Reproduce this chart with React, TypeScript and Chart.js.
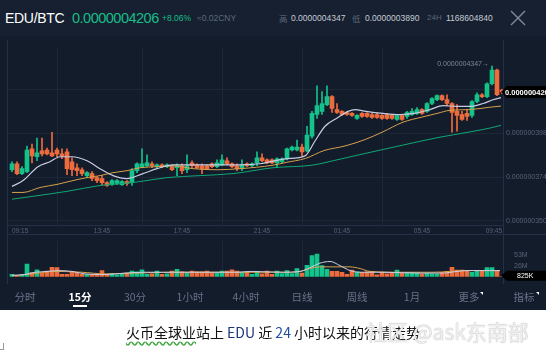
import React, { useEffect, useRef } from 'react';
import { Chart, registerables } from 'chart.js';

Chart.register(...registerables);

const FONT = 'Arial, "Liberation Sans", "Noto Sans CJK SC", sans-serif';
const CJK = '"Noto Sans CJK SC", "Liberation Sans", sans-serif';

const UP = '#14c28b';
const DOWN = '#ee6b3e';
const GRID = '#1c2738';
const BORDER = '#243047';
const TICK = '#566276';
const MA_WHITE = '#c9cce2';
const MA_YELLOW = '#d6a14c';
const MA_GREEN = '#0fa874';

// 15-minute candles, 09:15 -> 09:45 next day. Prices in units of 1e-10 BTC.
const opens = [
  3780, 3813, 3759, 3770, 3894, 3851, 3883, 3888, 3872, 3888,
  3867, 3878, 3824, 3791, 3780, 3748, 3759, 3737, 3732, 3710,
  3699, 3705, 3699, 3716, 3710, 3775, 3797, 3802, 3813, 3797,
  3807, 3797, 3797, 3791, 3802, 3780, 3818, 3807, 3802, 3802,
  3813, 3797, 3807, 3829, 3813, 3802, 3786, 3813, 3802, 3818,
  3845, 3834, 3834, 3818, 3824, 3840, 3888, 3888, 3904, 3883,
  3964, 4082, 4099, 4136, 4180, 4109, 4099, 4093, 4088, 4061,
  4088, 4088, 4082, 4082, 4077, 4082, 4077, 4055, 4077, 4072,
  4082, 4088, 4109, 4099, 4142, 4163, 4185, 4163, 4142, 4099,
  4082, 4088, 4077, 4153, 4190, 4180, 4250, 4325, 4215,
];
const highs = [
  3824, 3824, 3797, 3910, 3921, 3953, 3953, 3899, 3985, 3899,
  3894, 3894, 3845, 3813, 3791, 3770, 3770, 3743, 3748, 3716,
  3726, 3726, 3721, 3721, 3786, 3818, 3894, 3861, 3824, 3813,
  3813, 3813, 3807, 3813, 3813, 3861, 3829, 3813, 3813, 3807,
  3818, 3834, 3861, 3845, 3818, 3813, 3834, 3818, 3818, 3878,
  3867, 3840, 3840, 3845, 3845, 3899, 3910, 3942, 3921, 4018,
  4099, 4239, 4207, 4239, 4185, 4142, 4104, 4099, 4093, 4082,
  4093, 4093, 4088, 4088, 4082, 4088, 4082, 4082, 4082, 4099,
  4115, 4120, 4115, 4147, 4174, 4190, 4190, 4190, 4147, 4136,
  4099, 4109, 4158, 4201, 4196, 4255, 4347, 4331, 4220,
];
const lows = [
  3770, 3753, 3753, 3764, 3818, 3829, 3856, 3861, 3851, 3851,
  3840, 3753, 3748, 3748, 3748, 3737, 3721, 3710, 3699, 3689,
  3694, 3699, 3694, 3694, 3694, 3764, 3791, 3797, 3791, 3791,
  3791, 3791, 3775, 3748, 3759, 3764, 3791, 3786, 3759, 3780,
  3791, 3791, 3802, 3807, 3791, 3775, 3775, 3797, 3797, 3802,
  3824, 3813, 3813, 3791, 3818, 3834, 3883, 3883, 3856, 3878,
  3953, 4061, 4082, 4131, 4093, 4088, 4077, 4077, 4072, 4055,
  4066, 4066, 4061, 4061, 4055, 4055, 4055, 4050, 4050, 4061,
  4077, 4082, 4082, 4093, 4136, 4158, 4158, 4131, 3985, 3991,
  4050, 4050, 4066, 4147, 4174, 4174, 4244, 4185, 4196,
];
const closes = [
  3813, 3759, 3786, 3888, 3856, 3872, 3867, 3867, 3856, 3867,
  3856, 3786, 3780, 3775, 3759, 3764, 3732, 3721, 3710, 3694,
  3721, 3721, 3716, 3705, 3775, 3813, 3813, 3818, 3802, 3807,
  3797, 3807, 3780, 3802, 3775, 3802, 3802, 3791, 3786, 3786,
  3797, 3818, 3834, 3813, 3797, 3786, 3807, 3802, 3813, 3845,
  3829, 3818, 3818, 3840, 3840, 3894, 3904, 3904, 3878, 3969,
  4088, 4131, 4142, 4180, 4115, 4093, 4082, 4082, 4077, 4077,
  4072, 4072, 4066, 4066, 4061, 4061, 4061, 4077, 4055, 4093,
  4099, 4109, 4088, 4142, 4169, 4185, 4163, 4142, 4093, 4077,
  4055, 4072, 4153, 4190, 4180, 4250, 4325, 4190, 4206,
];
// volume in millions
const volumes = [
  6, 3, 4, 31, 10, 17, 9, 14, 23, 22,
  6, 6, 12, 10, 6, 6, 6, 7, 15, 6,
  8, 5, 7, 9, 14, 12, 17, 6, 7, 14,
  6, 7, 14, 18, 12, 9, 14, 12, 12, 14,
  9, 9, 14, 14, 17, 14, 10, 12, 6, 13,
  7, 14, 6, 14, 8, 15, 8, 20, 9, 28,
  51, 55, 27, 18, 13, 13, 11, 6, 16, 12,
  11, 12, 12, 5, 11, 7, 9, 16, 9, 11,
  11, 10, 7, 9, 7, 7, 11, 13, 23, 16,
  16, 14, 11, 13, 14, 22, 22, 13, 0.825,
];

// moving-average lines: [candle index, value]
const ma5 = [[0, 3689], [2.2, 3721], [5.2, 3797], [7.6, 3824], [9.6, 3851], [12, 3851], [15, 3829], [17.6, 3786], [20.2, 3748], [23, 3732], [26.2, 3759], [29, 3786], [32.2, 3807], [35, 3807], [41, 3807], [45.6, 3807], [49.6, 3813], [54.8, 3840], [58.6, 3856], [60.6, 3937], [62.6, 4018], [65.2, 4066], [67.2, 4099], [68.6, 4109], [70.8, 4099], [74.2, 4088], [77.6, 4082], [80.8, 4090], [83.6, 4109], [86.2, 4131], [89, 4126], [91.6, 4126], [94.2, 4142], [96.2, 4163], [97.8, 4174]];
const ma10 = [[0, 3656], [2.2, 3656], [5.6, 3683], [9, 3700], [12.2, 3721], [15, 3737], [17.6, 3748], [20.2, 3764], [23, 3775], [25.6, 3791], [29, 3797], [32.2, 3802], [36.2, 3786], [41, 3780], [45.6, 3786], [52.2, 3805], [54.8, 3820], [58.7, 3842], [62.4, 3885], [66.6, 3910], [70.6, 3945], [74, 3985], [78.2, 4040], [82, 4068], [85, 4088], [87.6, 4105], [91.6, 4109], [95.6, 4122], [97.8, 4128]];
const ma30 = [[0, 3619], [4.2, 3635], [11, 3662], [17.6, 3694], [24.2, 3710], [31, 3737], [37.6, 3748], [44.2, 3759], [52.2, 3791], [60, 3805], [65.6, 3838], [71.6, 3875], [78.2, 3915], [85, 3955], [91.6, 3987], [95.6, 4008], [97.8, 4023]];
const volMa5 = [[0, 3.7], [2.6, 5.5], [4.6, 11], [7.2, 13], [9.2, 15], [12, 13], [14.6, 7], [18.6, 5.5], [22.6, 9], [26.6, 11], [32, 11], [38.6, 11], [45.2, 11], [47.6, 13], [54.2, 11], [57.6, 13], [59.6, 22], [61.6, 33], [63.6, 37], [65.6, 27], [67.6, 15], [69.6, 11], [74.2, 11], [81, 9], [86.2, 9], [89, 13], [91, 15], [94.2, 15], [97.6, 15]];
const volMa10 = [[0, 1.8], [5.2, 9], [8.6, 13], [14, 11], [18.6, 7], [25.2, 9], [32, 11], [45.2, 11], [54.2, 11], [57.6, 13], [60.2, 22], [62.2, 24], [67.6, 24], [69.6, 20], [71.6, 13], [77.6, 11], [84.2, 11], [91, 15], [97.6, 15]];

const tickIndex = [0, 18, 34, 50, 66, 82, 98];
const tickLabels = ['09:15', '13:45', '17:45', '21:45', '01:45', '05:45', '09:45'];
const priceTicks = [3500, 3740, 3980, 4220];
const volTicks = [0, 26.5, 53];
const volTickLabels = ['0', '26M', '53M'];
const lastVolumeLabel = '825K';

const tabs = ['分时', '15分', '30分', '1小时', '4小时', '日线', '周线', '1月', '更多', '指标'];
const tabCenters = [25, 80, 135, 190, 246, 302, 357, 412, 469, 524];

const fmtPrice = (v: number) => (v * 1e-10).toFixed(10);
const candleColors = () => closes.map((c, i) => (c >= opens[i] ? UP : DOWN));
const pts = (arr: number[][]) => arr.map(([x, y]) => ({ x, y }));

const xScaleBase = {
  type: 'linear',
  min: -1,
  max: 98.2,
  offset: false,
  afterBuildTicks: (s: any) => {
    s.ticks = tickIndex.map((v) => ({ value: v }));
  },
  grid: {
    drawTicks: false,
    color: (c: any) => (c.index === 0 || c.index === tickIndex.length - 1 ? 'rgba(0,0,0,0)' : GRID),
  },
};

const mainOverlay = {
  id: 'mainOverlay',
  afterDraw(chart: any) {
    const { ctx, chartArea: a, scales } = chart;
    ctx.save();
    ctx.strokeStyle = BORDER;
    ctx.lineWidth = 1;
    ctx.beginPath();
    ctx.moveTo(a.left + 0.5, 0);
    ctx.lineTo(a.left + 0.5, chart.height);
    ctx.moveTo(a.right + 0.5, 0);
    ctx.lineTo(a.right + 0.5, chart.height);
    ctx.stroke();

    const hi = Math.max(...highs);
    const hiIdx = highs.indexOf(hi);
    const hx = scales.x.getPixelForValue(hiIdx) - 3;
    const hy = scales.y.getPixelForValue(hi) - 2;
    ctx.font = `7px ${FONT}`;
    ctx.fillStyle = '#7c8698';
    ctx.textAlign = 'right';
    ctx.textBaseline = 'middle';
    ctx.fillText(fmtPrice(hi) + '→', hx, hy);

    const last = closes[closes.length - 1];
    const py = Math.round(scales.y.getPixelForValue(last));
    const x0 = a.right - 2;
    ctx.fillStyle = '#000';
    ctx.beginPath();
    ctx.moveTo(x0, py);
    ctx.lineTo(x0 + 6, py - 6);
    ctx.lineTo(chart.width, py - 6);
    ctx.lineTo(chart.width, py + 6);
    ctx.lineTo(x0 + 6, py + 6);
    ctx.closePath();
    ctx.fill();
    ctx.fillStyle = '#fff';
    ctx.font = `bold 7.5px ${FONT}`;
    ctx.textAlign = 'left';
    ctx.fillText(fmtPrice(last), x0 + 4, py + 0.5);
    ctx.restore();
  },
};

const volOverlay = {
  id: 'volOverlay',
  afterDraw(chart: any) {
    const { ctx, chartArea: a } = chart;
    ctx.save();
    ctx.strokeStyle = BORDER;
    ctx.lineWidth = 1;
    ctx.beginPath();
    ctx.moveTo(a.left + 0.5, 0);
    ctx.lineTo(a.left + 0.5, chart.height);
    ctx.moveTo(a.right + 0.5, 0);
    ctx.lineTo(a.right + 0.5, chart.height);
    ctx.moveTo(a.left, 0.5);
    ctx.lineTo(chart.width, 0.5);
    ctx.stroke();
    const py = a.bottom - 1;
    const x0 = a.right - 2;
    ctx.fillStyle = '#000';
    ctx.beginPath();
    ctx.moveTo(x0, py);
    ctx.lineTo(x0 + 6, py - 5);
    ctx.lineTo(chart.width, py - 5);
    ctx.lineTo(chart.width, py + 5);
    ctx.lineTo(x0 + 6, py + 5);
    ctx.closePath();
    ctx.fill();
    ctx.fillStyle = '#fff';
    ctx.font = `7px ${FONT}`;
    ctx.textAlign = 'left';
    ctx.textBaseline = 'middle';
    ctx.fillText(lastVolumeLabel, 517, py + 0.5);
    ctx.restore();
  },
};

function PriceChart() {
  const ref = useRef<HTMLCanvasElement>(null);
  useEffect(() => {
    const colors = candleColors();
    const idx = closes.map((_, i) => i);
    const chart = new Chart(ref.current as HTMLCanvasElement, {
      type: 'bar',
      data: {
        datasets: [
          { type: 'line', data: pts(ma5), borderColor: MA_WHITE, borderWidth: 1.2, pointRadius: 0, cubicInterpolationMode: 'monotone', order: 0 } as any,
          { type: 'line', data: pts(ma10), borderColor: MA_YELLOW, borderWidth: 1, pointRadius: 0, cubicInterpolationMode: 'monotone', order: 0 } as any,
          { type: 'line', data: pts(ma30), borderColor: MA_GREEN, borderWidth: 1, pointRadius: 0, cubicInterpolationMode: 'monotone', order: 0 } as any,
          { type: 'bar', data: idx.map((i) => ({ x: i, y: [opens[i], closes[i]] })), backgroundColor: colors, barThickness: 4, minBarLength: 1, grouped: false, order: 1 } as any,
          { type: 'bar', data: idx.map((i) => ({ x: i, y: [lows[i], highs[i]] })), backgroundColor: colors, barThickness: 1, grouped: false, order: 2 } as any,
        ],
      },
      options: {
        animation: false,
        responsive: false,
        events: [],
        layout: { padding: { left: 7, top: 5, right: 0, bottom: 0 } },
        plugins: { legend: { display: false }, tooltip: { enabled: false } },
        scales: {
          x: {
            ...xScaleBase,
            afterFit: (s: any) => {
              s.height = 10;
            },
            ticks: {
              autoSkip: false,
              maxRotation: 0,
              align: 'inner',
              padding: 2,
              color: TICK,
              font: { size: 6.5, family: FONT },
              callback: (_v: any, i: number) => tickLabels[i],
            },
            border: { display: true, color: BORDER },
          },
          y: {
            position: 'right',
            min: 3478,
            max: 4450,
            afterBuildTicks: (s: any) => {
              s.ticks = priceTicks.map((v) => ({ value: v }));
            },
            afterFit: (s: any) => {
              s.width = 43;
            },
            ticks: { padding: 3, color: TICK, font: { size: 7, family: FONT }, callback: (v: any) => fmtPrice(Number(v)) },
            grid: { drawTicks: false, color: GRID },
            border: { display: false },
          },
        } as any,
      },
      plugins: [mainOverlay],
    });
    return () => chart.destroy();
  }, []);
  return <canvas ref={ref} width={546} height={195} style={{ position: 'absolute', left: 0, top: 40, width: 546, height: 195 }} />;
}

function VolumeChart() {
  const ref = useRef<HTMLCanvasElement>(null);
  useEffect(() => {
    const colors = candleColors();
    const chart = new Chart(ref.current as HTMLCanvasElement, {
      type: 'bar',
      data: {
        datasets: [
          { type: 'line', data: pts(volMa5), borderColor: MA_WHITE, borderWidth: 1, pointRadius: 0, cubicInterpolationMode: 'monotone', order: 0 } as any,
          { type: 'line', data: pts(volMa10), borderColor: MA_YELLOW, borderWidth: 1, pointRadius: 0, cubicInterpolationMode: 'monotone', order: 0 } as any,
          { type: 'bar', data: volumes.map((v, i) => ({ x: i, y: v })), backgroundColor: colors, barThickness: 4, grouped: false, order: 1 } as any,
        ],
      },
      options: {
        animation: false,
        responsive: false,
        events: [],
        layout: { padding: { left: 7, top: 0, right: 0, bottom: 3 } },
        plugins: { legend: { display: false }, tooltip: { enabled: false } },
        scales: {
          x: {
            ...xScaleBase,
            afterFit: (s: any) => {
              s.height = 0;
            },
            ticks: { display: false },
            border: { display: false },
          },
          y: {
            position: 'right',
            min: 0,
            max: 86,
            afterBuildTicks: (s: any) => {
              s.ticks = volTicks.map((v) => ({ value: v }));
            },
            afterFit: (s: any) => {
              s.width = 43;
            },
            ticks: { padding: 3, color: TICK, font: { size: 7, family: FONT }, callback: (_v: any, i: number) => volTickLabels[i] },
            grid: { display: false },
            border: { display: false },
          },
        } as any,
      },
      plugins: [volOverlay],
    });
    return () => chart.destroy();
  }, []);
  return <canvas ref={ref} width={546} height={50} style={{ position: 'absolute', left: 0, top: 234, width: 546, height: 50 }} />;
}

const abs = (left: number, extra: any = {}) => ({ position: 'absolute' as const, left, top: 0, height: 36, lineHeight: '36px', whiteSpace: 'nowrap' as const, ...extra });

export default function App() {
  return (
    <div style={{ position: 'relative', width: 546, height: 355, background: '#fff', overflow: 'hidden', fontFamily: FONT }}>
      <style>{'body{margin:0}'}</style>
      <div style={{ position: 'absolute', left: 0, top: 0, width: 546, height: 310, background: '#131c2b' }} />
      <div style={{ position: 'absolute', left: 0, top: 0, width: 546, height: 36, background: '#162030' }} />
      <span style={abs(5, { color: '#fff', fontSize: 14, letterSpacing: -0.3 })}>EDU/BTC</span>
      <span style={abs(72, { color: '#17bd88', fontSize: 14.5, letterSpacing: -0.5 })}>0.0000004206</span>
      <span style={abs(162, { color: '#17bd88', fontSize: 8.5 })}>+8.06%</span>
      <span style={abs(197, { color: '#5d697d', fontSize: 8.5 })}>≈0.02CNY</span>
      <span style={abs(279, { color: '#5d697d', fontSize: 8.5, fontFamily: CJK })}>高</span>
      <span style={abs(291, { color: '#c5cad4', fontSize: 8.5 })}>0.0000004347</span>
      <span style={abs(352, { color: '#5d697d', fontSize: 8.5, fontFamily: CJK })}>低</span>
      <span style={abs(365, { color: '#c5cad4', fontSize: 8.5 })}>0.0000003890</span>
      <span style={abs(427, { color: '#5d697d', fontSize: 8 })}>24H</span>
      <span style={abs(446, { color: '#c5cad4', fontSize: 8.5 })}>1168604840</span>
      <svg width={16} height={16} style={{ position: 'absolute', left: 510, top: 10 }}>
        <line x1={1} y1={1} x2={15} y2={15} stroke="#7b879b" strokeWidth={1.4} />
        <line x1={15} y1={1} x2={1} y2={15} stroke="#7b879b" strokeWidth={1.4} />
      </svg>

      <PriceChart />
      <VolumeChart />

      {tabs.map((t, i) => (
        <span
          key={t}
          style={{
            position: 'absolute',
            left: tabCenters[i] - 25,
            width: 50,
            top: 290,
            lineHeight: '14px',
            textAlign: 'center',
            fontSize: 10.5,
            fontFamily: CJK,
            color: i === 1 ? '#fff' : '#66728a',
            fontWeight: i === 1 ? 'bold' : 'normal',
          }}
        >
          {t}
        </span>
      ))}
      <div style={{ position: 'absolute', left: 480, top: 292, width: 0, height: 0, borderTop: '3px solid #fff', borderLeft: '3px solid transparent' }} />
      <div style={{ position: 'absolute', left: 536, top: 292, width: 0, height: 0, borderTop: '3px solid #fff', borderLeft: '3px solid transparent' }} />
      <div style={{ position: 'absolute', left: 73, top: 305, width: 14, height: 2, background: '#fff' }} />

      <div style={{ position: 'absolute', top: 323, left: 0, width: 546, textAlign: 'center', fontSize: 14, lineHeight: '18px', color: '#111', fontFamily: CJK, whiteSpace: 'nowrap' }}>
        <span style={{ textDecoration: 'underline wavy #3fa63f', textUnderlineOffset: 3 }}>火币全球业</span>站上 <span style={{ color: '#1c3575' }}>EDU</span> 近 <span style={{ color: '#1c4f9c' }}>24</span> 小时以来的行情走势
      </div>
      <div style={{ position: 'absolute', top: 318, left: 366, fontSize: 21, lineHeight: '26px', fontFamily: CJK, color: 'rgba(245,245,245,0.9)', textShadow: '0 0 1px #b5b5b5, 0 0 1px #c5c5c5', whiteSpace: 'nowrap' }}>
        社区 @ask东南部
      </div>
      <div style={{ position: 'absolute', left: 0, top: 343, width: 3, height: 6, borderRight: '1px solid #999', borderBottom: '1px solid #999' }} />
    </div>
  );
}
